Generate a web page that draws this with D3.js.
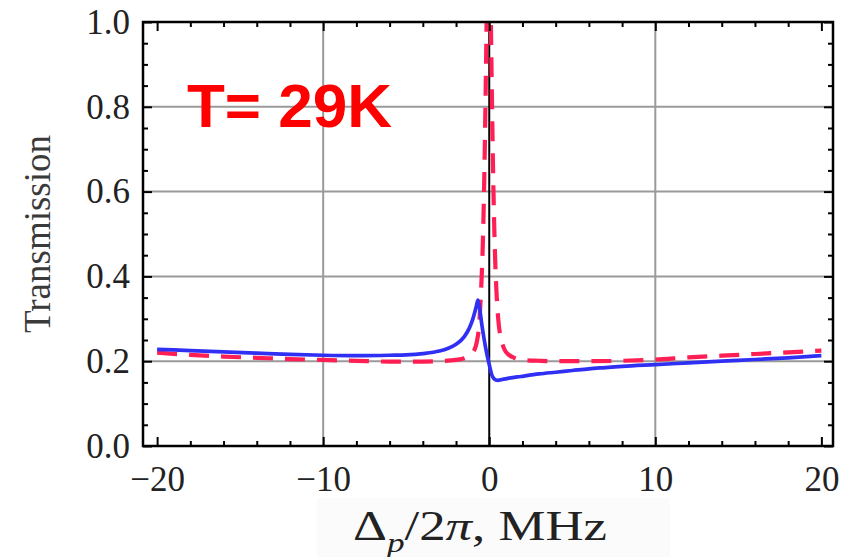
<!DOCTYPE html>
<html>
<head>
<meta charset="utf-8">
<script src="https://cdn.jsdelivr.net/npm/d3@7"></script>
<style>
  html, body { margin: 0; padding: 0; background: #fff; }
  svg { display: block; }
</style>
</head>
<body>
<svg id="chart" width="846" height="557"></svg>
<script>
// Probe detuning (MHz) and transmission, solid blue curve
const blueX = [-20, -18, -16, -14, -12, -10, -8, -6, -5, -4, -3, -2.5, -2, -1.5, -1.2, -1.0, -0.8, -0.68,
  -0.58, -0.45, -0.3, -0.15, 0.0, 0.15, 0.3, 0.5, 0.8, 1.2, 1.9, 3, 4, 5, 6, 7, 8, 10, 12, 14, 16, 18, 20];
const blueY = [0.228, 0.225, 0.222, 0.219, 0.216, 0.214, 0.213, 0.214, 0.215, 0.218, 0.224, 0.230, 0.240, 0.258, 0.278, 0.298, 0.326, 0.344,
  0.325, 0.287, 0.250, 0.218, 0.192, 0.168, 0.158, 0.155, 0.157, 0.160, 0.164, 0.170, 0.174, 0.178, 0.182, 0.185, 0.188, 0.192, 0.196, 0.200, 0.204, 0.208, 0.213];

// Dashed red curve: narrow transmission peak at zero detuning
const redX = [-20, -18, -16, -14, -12, -10, -8, -6, -4, -3, -2, -1.5, -1.2, -0.9, -0.75, -0.6, -0.5, -0.4, -0.3, -0.2, -0.12, -0.03,
  0.06, 0.14, 0.24, 0.34, 0.44, 0.54, 0.69, 0.84, 1.0, 1.5, 2, 3, 4, 6, 8, 10, 12, 14, 16, 18, 20];
const redY = [0.220, 0.215, 0.211, 0.208, 0.205, 0.203, 0.201, 0.199, 0.199, 0.200, 0.203, 0.207, 0.213, 0.226, 0.245, 0.290, 0.360, 0.460, 0.630, 0.880, 1.120, 1.400,
  1.120, 0.880, 0.630, 0.460, 0.360, 0.300, 0.255, 0.235, 0.222, 0.208, 0.203, 0.201, 0.200, 0.200, 0.201, 0.204, 0.209, 0.213, 0.217, 0.221, 0.225];

const xMajor = [-20, -10, 0, 10, 20];
const xMinor = [-18, -16, -14, -12, -8, -6, -4, -2, 2, 4, 6, 8, 12, 14, 16, 18];
const yMajor = [0, 0.2, 0.4, 0.6, 0.8, 1.0];
const yMinor = [0.05, 0.1, 0.15, 0.25, 0.3, 0.35, 0.45, 0.5, 0.55, 0.65, 0.7, 0.75, 0.85, 0.9, 0.95];
const xGrid = [-10, 10];
const yGrid = [0.2, 0.4, 0.6, 0.8];

const svg = d3.select("#chart");
const L = 143, R = 833, T = 22, B = 446;

const x = d3.scaleLinear().domain([-20.85, 20.7]).range([L, R]);
const y = d3.scaleLinear().domain([0, 1]).range([B, T]);

svg.append("defs").append("clipPath").attr("id", "plotClip")
  .append("rect").attr("x", L).attr("y", T).attr("width", R - L).attr("height", B - T);

// grid lines
const grid = svg.append("g");
grid.selectAll(".gx").data(xGrid).join("line")
  .attr("x1", d => x(d)).attr("x2", d => x(d)).attr("y1", T).attr("y2", B)
  .attr("stroke", "#9a9a9a").attr("stroke-width", 2);
grid.selectAll(".gy").data(yGrid).join("line")
  .attr("x1", L).attr("x2", R).attr("y1", d => y(d)).attr("y2", d => y(d))
  .attr("stroke", "#9a9a9a").attr("stroke-width", 2);

// vertical axis at zero detuning
svg.append("line")
  .attr("x1", x(0)).attr("x2", x(0)).attr("y1", T).attr("y2", B)
  .attr("stroke", "#000").attr("stroke-width", 2);

const line = d3.line().x(d => x(d[0])).y(d => y(d[1])).curve(d3.curveMonotoneX);
const plot = svg.append("g").attr("clip-path", "url(#plotClip)");

plot.append("path")
  .datum(redX.map((v, i) => [v, redY[i]]))
  .attr("d", line)
  .attr("fill", "none")
  .attr("stroke", "#ff1f55")
  .attr("stroke-width", 4.2)
  .attr("stroke-dasharray", "20,12");

plot.append("path")
  .datum(blueX.map((v, i) => [v, blueY[i]]))
  .attr("d", line)
  .attr("fill", "none")
  .attr("stroke", "#3030f5")
  .attr("stroke-width", 3.7)
  .attr("stroke-linejoin", "round");

// frame ticks on all four sides
const tickFont = "'Liberation Serif', 'DejaVu Serif', serif";
function styleAxis(g) {
  g.select(".domain").remove();
  g.selectAll(".tick line").attr("stroke", "#000").attr("stroke-width", 2);
  g.selectAll("text").attr("font-family", tickFont).attr("font-size", 35).attr("fill", "#222");
}

svg.append("g").attr("transform", `translate(0,${B})`)
  .call(d3.axisBottom(x).tickValues(xMajor).tickSize(-9).tickSizeOuter(0).tickPadding(20).tickFormat(d3.format("d")))
  .call(styleAxis);
svg.append("g").attr("transform", `translate(0,${B})`)
  .call(d3.axisBottom(x).tickValues(xMinor).tickSize(-5).tickSizeOuter(0).tickFormat(""))
  .call(styleAxis);
svg.append("g").attr("transform", `translate(0,${T})`)
  .call(d3.axisTop(x).tickValues(xMajor).tickSize(-9).tickSizeOuter(0).tickFormat(""))
  .call(styleAxis);
svg.append("g").attr("transform", `translate(0,${T})`)
  .call(d3.axisTop(x).tickValues(xMinor).tickSize(-5).tickSizeOuter(0).tickFormat(""))
  .call(styleAxis);

svg.append("g").attr("transform", `translate(${L},0)`)
  .call(d3.axisLeft(y).tickValues(yMajor).tickSize(-9).tickSizeOuter(0).tickPadding(13).tickFormat(d3.format(".1f")))
  .call(styleAxis);
svg.append("g").attr("transform", `translate(${L},0)`)
  .call(d3.axisLeft(y).tickValues(yMinor).tickSize(-5).tickSizeOuter(0).tickFormat(""))
  .call(styleAxis);
svg.append("g").attr("transform", `translate(${R},0)`)
  .call(d3.axisRight(y).tickValues(yMajor).tickSize(-9).tickSizeOuter(0).tickFormat(""))
  .call(styleAxis);
svg.append("g").attr("transform", `translate(${R},0)`)
  .call(d3.axisRight(y).tickValues(yMinor).tickSize(-5).tickSizeOuter(0).tickFormat(""))
  .call(styleAxis);

// frame
svg.append("rect")
  .attr("x", L).attr("y", T).attr("width", R - L).attr("height", B - T)
  .attr("fill", "none").attr("stroke", "#000").attr("stroke-width", 2.5);

// axis titles
svg.append("text")
  .attr("transform", `translate(50,234) rotate(-90)`)
  .attr("text-anchor", "middle")
  .attr("font-family", tickFont).attr("font-size", 37).attr("fill", "#3a3a3a")
  .text("Transmission");

svg.append("rect")
  .attr("x", 317).attr("y", 498).attr("width", 353).attr("height", 59)
  .attr("fill", "#fbfbfb");

const xl = svg.append("text")
  .attr("x", 353).attr("y", 540)
  .attr("font-family", tickFont).attr("font-size", 42).attr("fill", "#222")
  .attr("textLength", 254).attr("lengthAdjust", "spacingAndGlyphs");
xl.append("tspan").text("Δ");
xl.append("tspan").attr("font-style", "italic").attr("font-size", 28).attr("dy", 12).text("p");
xl.append("tspan").attr("dy", -12).text("/2");
xl.append("tspan").attr("font-style", "italic").text("π");
xl.append("tspan").text(", MHz");

// temperature annotation
svg.append("text")
  .attr("x", 187).attr("y", 127)
  .attr("font-family", "'Liberation Sans', Arial, sans-serif")
  .attr("font-weight", "bold").attr("font-size", 62).attr("fill", "#ff0000")
  .text("T= 29K");
</script>
</body>
</html>
